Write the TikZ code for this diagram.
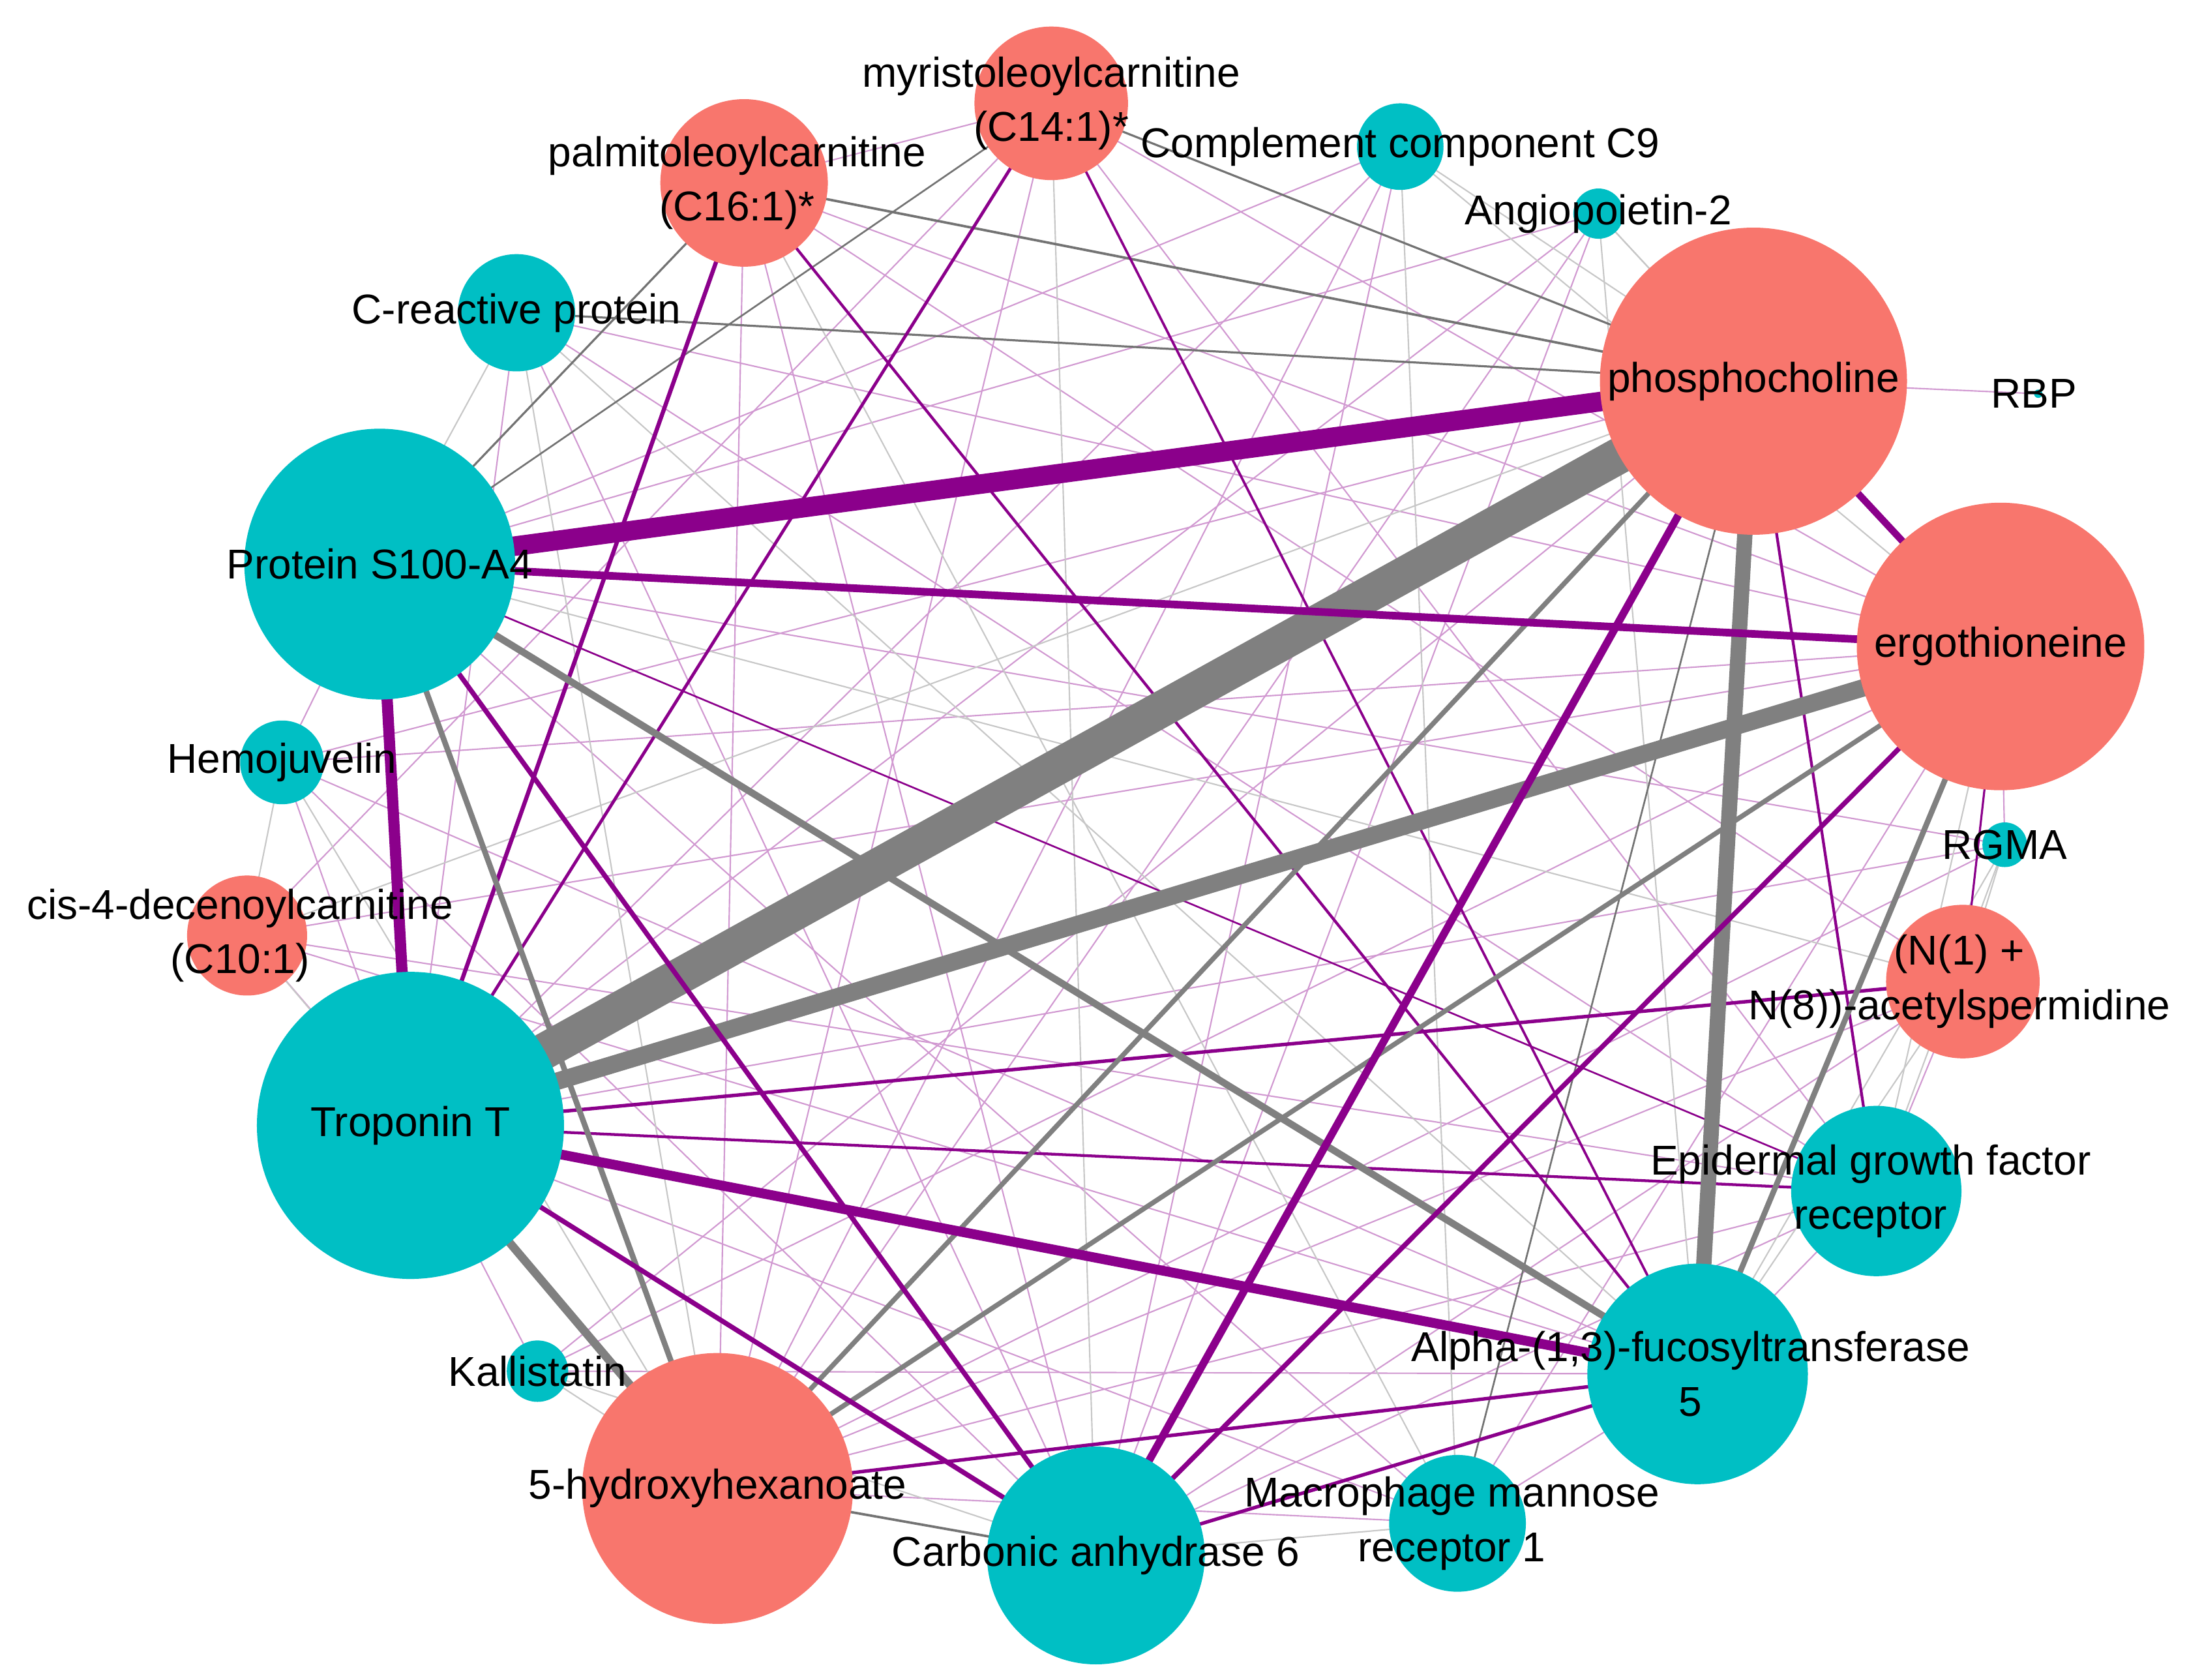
\documentclass[tikz,border=0pt]{standalone}
\usepackage{fontspec}
\setmainfont{Liberation Sans}
\definecolor{metred}{HTML}{F8766D}
\definecolor{protcyan}{HTML}{00BFC4}
\definecolor{edgepurple}{RGB}{139,0,139}
\definecolor{edgegray}{RGB}{128,128,128}
\pgfdeclarelayer{edges}
\pgfsetlayers{edges,main}

\begin{document}
\begin{tikzpicture}[x=0.02cm, y=-0.02cm,
	metab/.style={circle, fill=metred, inner sep=0pt},
	prot/.style={circle, fill=protcyan, inner sep=0pt},
	txt/.style={align=center, inner sep=0pt, font=\fontsize{17}{22.2}\selectfont},
	posedge/.style={draw=edgepurple, line width=#1},
	negedge/.style={draw=edgegray, line width=#1},
	darkneg/.style={draw=black!55, line width=#1},
	weakpos/.style={draw=edgepurple!40, line width=0.02cm},
	weakneg/.style={draw=black!22, line width=0.02cm}
	]

	\useasboundingbox (0,0) rectangle (1568,1203);

	% metabolites
	\node (my) [metab, minimum size=2.2cm] at (753,74) {};
	\node (pa) [metab, minimum size=2.4cm] at (533,131) {};
	\node (ph) [metab, minimum size=4.4cm] at (1256,273) {};
	\node (er) [metab, minimum size=4.12cm] at (1433,463) {};
	\node (cis) [metab, minimum size=1.72cm] at (177,670) {};
	\node (ac) [metab, minimum size=2.2cm] at (1406,703) {};
	\node (hx) [metab, minimum size=3.88cm] at (514,1066) {};
	% proteins
	\node (c9) [prot, minimum size=1.24cm] at (1003,105) {};
	\node (an) [prot, minimum size=0.72cm] at (1145,153) {};
	\node (crp) [prot, minimum size=1.68cm] at (370,224) {};
	\node (rbp) [prot, minimum size=0.12cm] at (1460,282) {};
	\node (s100) [prot, minimum size=3.88cm] at (272,404) {};
	\node (hj) [prot, minimum size=1.2cm] at (202,546) {};
	\node (rgma) [prot, minimum size=0.64cm] at (1436,605) {};
	\node (tnt) [prot, minimum size=4.4cm] at (294,806) {};
	\node (egfr) [prot, minimum size=2.44cm] at (1344,853) {};
	\node (fut) [prot, minimum size=3.16cm] at (1216,984) {};
	\node (kal) [prot, minimum size=0.88cm] at (385,982) {};
	\node (ca6) [prot, minimum size=3.12cm] at (785,1114) {};
	\node (mrc) [prot, minimum size=1.96cm] at (1044,1091) {};

	\begin{pgfonlayer}{edges}
	% weak links
	\foreach \a/\b in {c9/s100, c9/ca6, c9/tnt, my/hx, my/cis, my/pa, pa/hx, ph/rbp, er/rgma, ac/egfr,
		egfr/fut, kal/tnt, kal/er, kal/ph, s100/hj, hj/tnt, cis/tnt, hx/mrc, mrc/fut, crp/tnt, crp/ca6,
		crp/er, an/s100, an/ca6, hj/ph, cis/er, cis/egfr, rgma/tnt, rgma/hx, ac/hx, ac/ca6, egfr/hx,
		egfr/ca6, mrc/s100, mrc/tnt, kal/fut, my/egfr, pa/ac, pa/er, my/er, an/tnt, c9/hx, cis/fut,
		hj/ca6, rgma/s100, crp/egfr, pa/ca6, mrc/er, hj/fut, an/hx, hj/er}
		\draw [weakpos] (\a.center) -- (\b.center);
	\foreach \a/\b in {crp/s100, hj/cis, kal/hx, mrc/ca6, my/ca6, ac/rgma, c9/ph, an/ph, crp/fut, crp/hx,
		cis/ph, an/fut, c9/mrc, ac/fut, s100/ac, rgma/fut, kal/ca6, c9/er, an/er, hj/hx, cis/hx,
		pa/mrc, egfr/rgma, egfr/er}
		\draw [weakneg] (\a.center) -- (\b.center);

	% thin links
	\draw [darkneg=0.035cm] (pa.center) -- (ph.center);
	\draw [darkneg=0.03cm] (crp.center) -- (ph.center);
	\draw [darkneg=0.03cm] (my.center) -- (ph.center);
	\draw [darkneg=0.03cm] (pa.center) -- (s100.center);
	\draw [darkneg=0.025cm] (my.center) -- (s100.center);
	\draw [darkneg=0.035cm] (hx.center) -- (ca6.center);
	\draw [darkneg=0.025cm] (ph.center) -- (mrc.center);

	\draw [posedge=0.06cm] (pa.center) -- (tnt.center);
	\draw [posedge=0.05cm] (tnt.center) -- (ac.center);
	\draw [posedge=0.05cm] (hx.center) -- (fut.center);
	\draw [posedge=0.05cm] (ca6.center) -- (fut.center);
	\draw [posedge=0.045cm] (my.center) -- (tnt.center);
	\draw [posedge=0.04cm] (pa.center) -- (fut.center);
	\draw [posedge=0.04cm] (tnt.center) -- (egfr.center);
	\draw [posedge=0.04cm] (ph.center) -- (egfr.center);
	\draw [posedge=0.035cm] (my.center) -- (fut.center);
	\draw [posedge=0.03cm] (er.center) -- (ac.center);
	\draw [posedge=0.025cm] (s100.center) -- (egfr.center);

	% strong links
	\draw [negedge=0.07cm] (ph.center) -- (hx.center);
	\draw [negedge=0.07cm] (er.center) -- (hx.center);
	\draw [negedge=0.08cm] (er.center) -- (fut.center);
	\draw [negedge=0.08cm] (s100.center) -- (hx.center);
	\draw [negedge=0.1cm] (s100.center) -- (fut.center);
	\draw [negedge=0.12cm] (tnt.center) -- (hx.center);
	\draw [negedge=0.22cm] (ph.center) -- (fut.center);
	\draw [negedge=0.25cm] (er.center) -- (tnt.center);
	\draw [negedge=0.52cm] (ph.center) -- (tnt.center);

	\draw [posedge=0.07cm] (s100.center) -- (ca6.center);
	\draw [posedge=0.07cm] (tnt.center) -- (ca6.center);
	\draw [posedge=0.07cm] (er.center) -- (ca6.center);
	\draw [posedge=0.1cm] (ph.center) -- (er.center);
	\draw [posedge=0.11cm] (ph.center) -- (ca6.center);
	\draw [posedge=0.11cm] (er.center) -- (s100.center);
	\draw [posedge=0.14cm] (tnt.center) -- (fut.center);
	\draw [posedge=0.16cm] (s100.center) -- (tnt.center);
	\draw [posedge=0.28cm] (ph.center) -- (s100.center);
	\end{pgfonlayer}

	% labels
	\node (my-txt) [txt] at (my) {myristoleoylcarnitine\\(C14:1)*};
	\node (pa-txt) [txt, xshift=-0.1cm] at (pa) {palmitoleoylcarnitine\\(C16:1)*};
	\node (ph-txt) [txt] at (ph) {phosphocholine};
	\node (er-txt) [txt] at (er) {ergothioneine};
	\node (cis-txt) [txt, xshift=-0.1cm] at (cis) {cis-4-decenoylcarnitine\\(C10:1)};
	\node (ac-txt) [txt, xshift=-0.05cm] at (ac) {(N(1) +\\N(8))-acetylspermidine};
	\node (hx-txt) [txt] at (hx) {5-hydroxyhexanoate};
	\node (c9-txt) [txt] at (c9) {Complement component C9};
	\node (an-txt) [txt] at (an) {Angiopoietin-2};
	\node (crp-txt) [txt] at (crp) {C-reactive protein};
	\node (rbp-txt) [txt, xshift=-0.06cm] at (rbp) {RBP};
	\node (s100-txt) [txt] at (s100) {Protein S100-A4};
	\node (hj-txt) [txt] at (hj) {Hemojuvelin};
	\node (rgma-txt) [txt] at (rgma) {RGMA};
	\node (tnt-txt) [txt] at (tnt) {Troponin T};
	\node (egfr-txt) [txt, xshift=-0.08cm] at (egfr) {Epidermal growth factor\\receptor};
	\node (fut-txt) [txt, xshift=-0.1cm] at (fut) {Alpha-(1,3)-fucosyltransferase\\5};
	\node (kal-txt) [txt] at (kal) {Kallistatin};
	\node (ca6-txt) [txt] at (ca6) {Carbonic anhydrase 6};
	\node (mrc-txt) [txt, xshift=-0.08cm] at (mrc) {Macrophage mannose\\receptor 1};

\end{tikzpicture}
\end{document}
